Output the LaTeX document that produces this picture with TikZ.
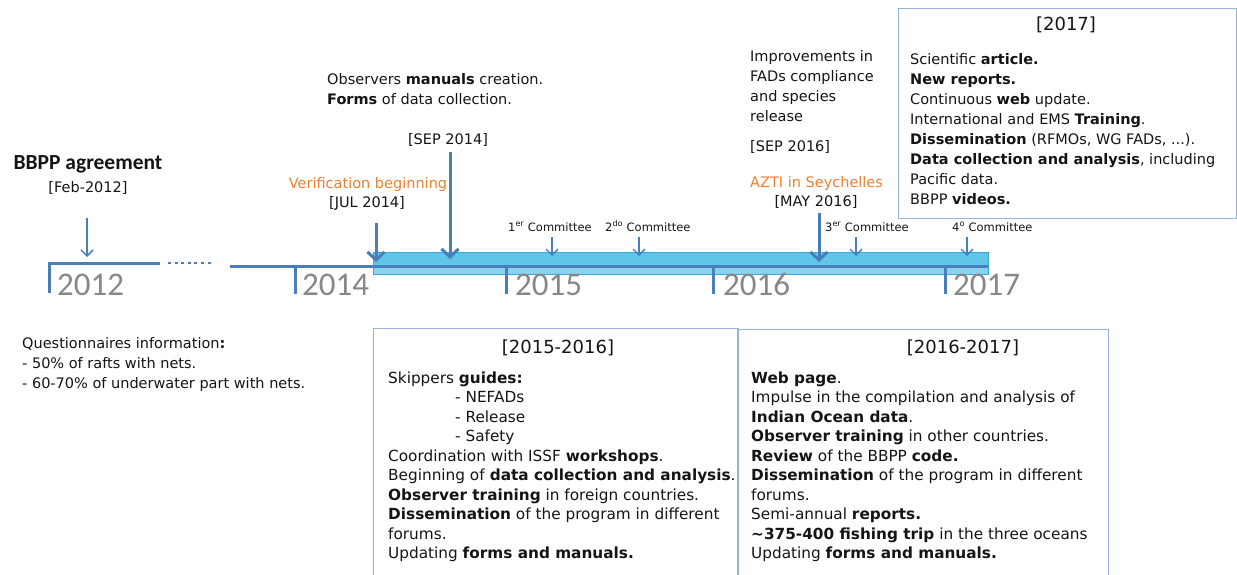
\documentclass[tikz,border=0pt]{standalone}
\usepackage{fontspec}
\setmainfont{DejaVu Sans}
\newfontfamily\carl{Carlito}
\usetikzlibrary{arrows.meta}
\definecolor{tlblue}{RGB}{74,126,187}
\definecolor{txt}{RGB}{20,20,20}
\definecolor{orng}{RGB}{236,128,50}
\definecolor{yr}{RGB}{135,135,135}
\definecolor{boxc}{RGB}{150,180,215}
\definecolor{barfill}{RGB}{95,198,232}
\definecolor{barlow}{RGB}{140,210,238}
\definecolor{barline}{RGB}{55,170,215}
\newcommand\fsz[2]{\fontsize{#1}{#2}\selectfont}
\newcommand\blk[1]{\parbox[t]{20cm}{\raggedright #1}}
\tikzset{
  lbl/.style={inner sep=0pt, text=txt, font=\fsz{14.5}{20}},
  boxtxt/.style={inner sep=0pt, text=txt, font=\fsz{15.3}{19.5}},
  toptxt/.style={inner sep=0pt, text=txt, font=\fsz{14.5}{20}},
  ttl/.style={inner sep=0pt, text=txt, font=\fsz{18}{22}},
  comm/.style={inner sep=0pt, text=txt, font=\fsz{11.5}{14}},
  orn/.style={inner sep=0pt, text=orng, font=\fsz{14.5}{20}},
  yearlbl/.style={inner sep=0pt, text=yr, font=\carl\fsz{33}{36}},
  tbox/.style={draw=boxc, line width=1.1pt, inner sep=0pt, anchor=north west},
  tl/.style={draw=tlblue, line width=3pt},
  thinarr/.style={draw=tlblue, line width=1.5pt, -{Straight Barb[length=6pt,width=12pt]}},
  thickarr/.style={draw=tlblue, line width=3pt, -{Straight Barb[length=8pt,width=17pt]}}
}
\begin{document}
\begin{tikzpicture}[x=1pt,y=-1pt]
\useasboundingbox (0,0) rectangle (1237,575);
% boxes
\node[tbox, minimum width=338pt, minimum height=210pt] (b17) at (898,8) {};
\node[tbox, minimum width=365pt, minimum height=270pt] (b1516) at (373,328) {};
\node[tbox, minimum width=371pt, minimum height=270pt] (b1617) at (737,329) {};
% highlighted bar
\fill[barfill] (373,252) rectangle (988,266);
\fill[barlow] (373,266) rectangle (988,274);
\draw[barline, line width=1pt] (373,252) rectangle (988,274);
% timeline
\coordinate (t0) at (49,293);
\coordinate (t1) at (49,263);
\coordinate (t2) at (160,263);
\coordinate (d1) at (168,263);
\coordinate (d2) at (214,263);
\coordinate (s1) at (230,266);
\coordinate (s2) at (988,266);
\draw[tl] (t0) -- (t1) -- (t2);
\draw[draw=tlblue, line width=2.5pt, dash pattern=on 3pt off 3.6pt] (d1) -- (d2);
\draw[tl] (s1) -- (s2);
\foreach \x/\n in {295/a,506/b,713/c,945/d}{
  \coordinate (k\n1) at (\x,266);
  \coordinate (k\n2) at (\x,294);
  \draw[tl] (k\n1) -- (k\n2);
}
% years
\node[yearlbl, anchor=base west] (y12) at (57,295) {2012};
\node[yearlbl, anchor=base west] (y14) at (302,295) {2014};
\node[yearlbl, anchor=base west] (y15) at (515,295) {2015};
\node[yearlbl, anchor=base west] (y16) at (723,295) {2016};
\node[yearlbl, anchor=base west] (y17) at (953,295) {2017};
% labels
\node[inner sep=0pt, text=txt, font=\carl\bfseries\fsz{21.5}{24}, anchor=base] (bbpp) at (88,170) {BBPP agreement};
\node[lbl, anchor=base] (feb) at (88,192) {[Feb-2012]};
\node[lbl, anchor=base west] (obs) at (327,85) {\blk{Observers \textbf{manuals} creation.\\\textbf{Forms} of data collection.}};
\node[lbl, anchor=base] (sep14) at (448,145) {[SEP 2014]};
\node[orn, anchor=base] (verif) at (368,189) {Verification beginning};
\node[lbl, anchor=base] (jul14) at (367,207) {[JUL 2014]};
\node[lbl, anchor=base west] (impr) at (750,62) {\blk{Improvements in\\FADs compliance\\and species\\release}};
\node[lbl, anchor=base west] (sep16) at (750,152) {[SEP 2016]};
\node[orn, anchor=base west] (azti) at (750,187) {AZTI in Seychelles};
\node[lbl, anchor=base] (may16) at (816,206) {[MAY 2016]};
\node[comm, anchor=base west] (c1) at (508,231) {1\textsuperscript{er} Committee};
\node[comm, anchor=base west] (c2) at (605,231) {2\textsuperscript{do} Committee};
\node[comm, anchor=base west] (c3) at (825,231) {3\textsuperscript{er} Committee};
\node[comm, anchor=base west] (c4) at (952,231) {4\textsuperscript{o} Committee};
\node[lbl, anchor=base west] (quest) at (22,348) {\blk{Questionnaires information\textbf{:}\\- 50\% of rafts with nets.\\- 60-70\% of underwater part with nets.}};
% arrows
\coordinate (afs) at (87,218);  \coordinate (afe) at (87,257);
\coordinate (ajs) at (376,223); \coordinate (aje) at (376,262);
\coordinate (ass) at (450,152); \coordinate (ase) at (450,259);
\coordinate (ams) at (819,213); \coordinate (ame) at (819,262);
\draw[thinarr] (afs) -- (afe);
\draw[thickarr] (ajs) -- (aje);
\draw[thickarr] (ass) -- (ase);
\draw[thickarr] (ams) -- (ame);
\foreach \x/\n in {552/1,639/2,856/3,967/4}{
  \coordinate (cs\n) at (\x,237);
  \coordinate (ce\n) at (\x,256);
  \draw[thinarr, line width=1.3pt] (cs\n) -- (ce\n);
}
% box 2017
\node[ttl, anchor=base] (t17) at (1066,31) {[2017]};
\node[toptxt, anchor=base west] (x17) at (910,65) {\blk{Scientific \textbf{article.}\\\textbf{New reports.}\\Continuous \textbf{web} update.\\International and EMS \textbf{Training}.\\\textbf{Dissemination} (RFMOs, WG FADs, ...).\\\textbf{Data collection and analysis}, including\\Pacific data.\\BBPP \textbf{videos.}}};
% box 2015-2016
\node[ttl, anchor=base] (t1516) at (558,353) {[2015-2016]};
\node[boxtxt, anchor=base west] (x1516) at (388,383) {\blk{Skippers \textbf{guides:}\\\hspace*{67pt}- NEFADs\\\hspace*{67pt}- Release\\\hspace*{67pt}- Safety\\Coordination with ISSF \textbf{workshops}.\\Beginning of \textbf{data collection and analysis}.\\\textbf{Observer training} in foreign countries.\\\textbf{Dissemination} of the program in different\\forums.\\Updating \textbf{forms and manuals.}}};
% box 2016-2017
\node[ttl, anchor=base] (t1617) at (963,353) {[2016-2017]};
\node[boxtxt, anchor=base west] (x1617) at (751,383) {\blk{\textbf{Web page}.\\Impulse in the compilation and analysis of\\\textbf{Indian Ocean data}.\\\textbf{Observer training} in other countries.\\\textbf{Review} of the BBPP \textbf{code.}\\\textbf{Dissemination} of the program in different\\forums.\\Semi-annual \textbf{reports.}\\\textbf{\textasciitilde375-400 fishing trip} in the three oceans\\Updating \textbf{forms and manuals.}}};
\end{tikzpicture}
\end{document}
